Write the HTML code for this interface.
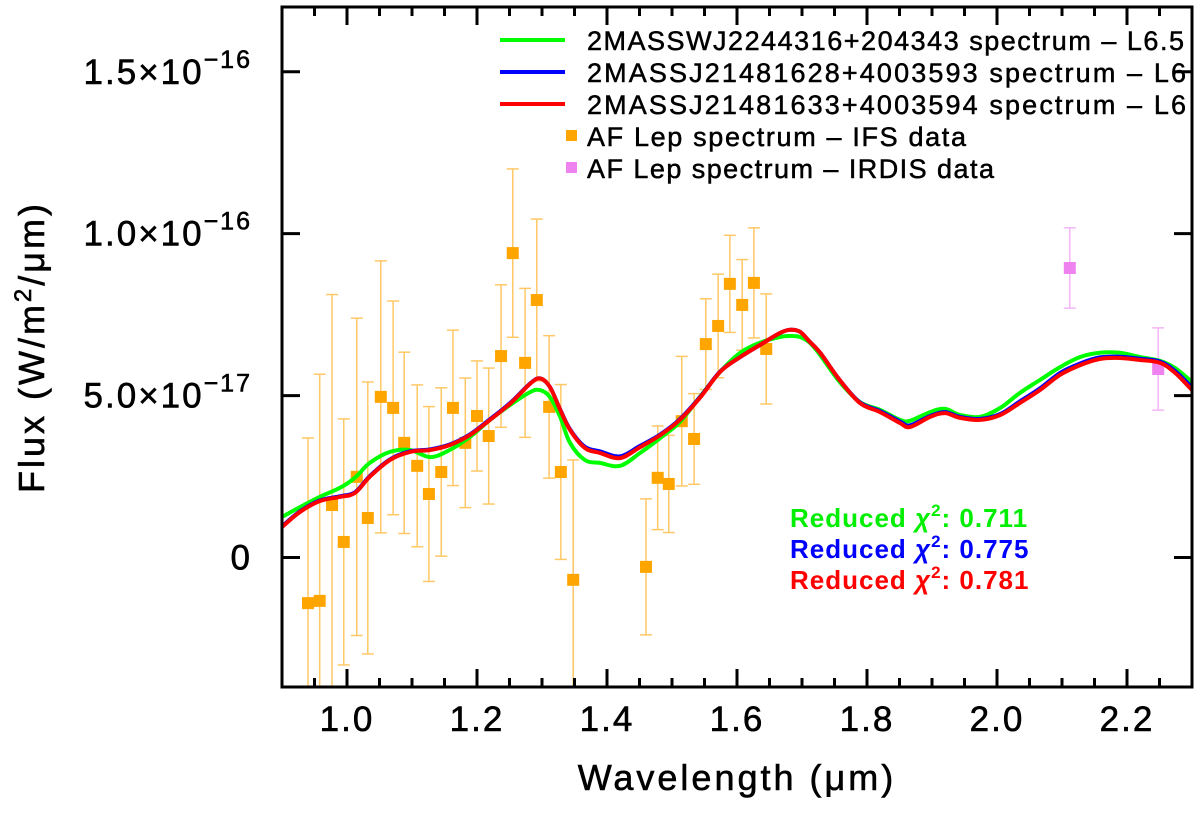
<!DOCTYPE html>
<html><head><meta charset="utf-8"><style>
body{margin:0;background:#fff}
svg text{font-family:"Liberation Sans",sans-serif}
</style></head><body>
<svg id="chart" width="1200" height="810" viewBox="0 0 1200 810" xmlns="http://www.w3.org/2000/svg">
<defs><clipPath id="clip"><rect x="282" y="7" width="910" height="680"/></clipPath></defs>
<g id="plot" clip-path="url(#clip)"></g>
<g id="axes"></g>
<g id="legend" font-size="27" stroke="#000" stroke-width="0.5" letter-spacing="1">
  <line x1="500" y1="40" x2="565" y2="40" stroke="#00ff00" stroke-width="4"/>
  <line x1="500" y1="72" x2="565" y2="72" stroke="#0000ff" stroke-width="4"/>
  <line x1="500" y1="104" x2="565" y2="104" stroke="#ff0000" stroke-width="4"/>
  <rect x="566" y="130" width="11" height="11" fill="#ffa500" stroke="none"/>
  <rect x="566" y="162" width="11" height="11" fill="#ee82ee" stroke="none"/>
  <text x="587" y="50" textLength="598">2MASSWJ2244316+204343 spectrum – L6.5</text>
  <text x="587" y="82" textLength="600">2MASSJ21481628+4003593 spectrum – L6</text>
  <text x="587" y="114" textLength="600">2MASSJ21481633+4003594 spectrum – L6</text>
  <text x="587" y="146" textLength="380">AF Lep spectrum – IFS data</text>
  <text x="587" y="178" textLength="408">AF Lep spectrum – IRDIS data</text>
</g>
<g id="chi" font-size="26" font-weight="bold" letter-spacing="1">
  <text x="790" y="527" fill="#00ee00">Reduced <tspan font-style="italic">χ</tspan><tspan dy="-11" font-size="17">2</tspan><tspan dy="11">: 0.711</tspan></text>
  <text x="790" y="558" fill="#0000ff">Reduced <tspan font-style="italic">χ</tspan><tspan dy="-11" font-size="17">2</tspan><tspan dy="11">: 0.775</tspan></text>
  <text x="790" y="589" fill="#ff0000">Reduced <tspan font-style="italic">χ</tspan><tspan dy="-11" font-size="17">2</tspan><tspan dy="11">: 0.781</tspan></text>
</g>
<text x="737" y="790" font-size="36" letter-spacing="3" stroke="#000" stroke-width="0.6" text-anchor="middle">Wavelength (μm)</text>
<text transform="translate(44,347) rotate(-90)" font-size="36" letter-spacing="3" stroke="#000" stroke-width="0.6" text-anchor="middle">Flux (W/m<tspan dy="-13" font-size="24">2</tspan><tspan dy="13">/μm)</tspan></text>
</svg>
<script>
const modelWl = [0.900,0.928,0.958,0.989,1.012,1.035,1.066,1.097,1.128,1.158,1.189,1.220,1.251,1.282,1.297,1.312,1.328,1.343,1.366,1.389,1.420,1.451,1.482,1.512,1.543,1.574,1.605,1.635,1.666,1.682,1.697,1.712,1.728,1.758,1.789,1.820,1.851,1.866,1.897,1.920,1.943,1.974,2.005,2.035,2.066,2.097,2.128,2.158,2.189,2.220,2.251,2.274,2.300];
const greenFlux = [1.25,1.56,1.87,2.15,2.46,2.92,3.26,3.32,3.10,3.32,3.72,4.25,4.71,5.11,5.17,4.96,4.34,3.54,3.01,2.92,2.83,3.23,3.69,4.18,4.96,5.73,6.32,6.63,6.81,6.84,6.81,6.63,6.25,5.42,4.80,4.56,4.25,4.22,4.49,4.59,4.40,4.34,4.62,5.08,5.48,5.88,6.19,6.32,6.32,6.19,6.07,5.85,5.42];
const blueFlux = [0.96,1.43,1.76,1.89,2.01,2.51,3.03,3.28,3.34,3.49,3.80,4.27,4.77,5.38,5.53,5.27,4.57,3.96,3.42,3.28,3.12,3.45,3.80,4.27,4.95,5.74,6.19,6.56,6.93,7.03,6.97,6.66,6.32,5.48,4.79,4.52,4.20,4.08,4.37,4.49,4.34,4.28,4.43,4.82,5.22,5.70,5.99,6.18,6.20,6.14,6.05,5.76,5.25];
const redFlux = [0.94,1.41,1.74,1.87,1.99,2.49,3.01,3.26,3.32,3.47,3.78,4.25,4.75,5.37,5.53,5.27,4.56,3.94,3.38,3.23,3.07,3.41,3.78,4.25,4.93,5.73,6.19,6.56,6.93,7.03,6.97,6.66,6.32,5.48,4.77,4.49,4.15,4.03,4.34,4.46,4.31,4.25,4.40,4.77,5.17,5.64,5.94,6.13,6.16,6.10,6.01,5.70,5.17];
const ifsWl = [0.940,0.958,0.977,0.995,1.015,1.032,1.052,1.071,1.088,1.108,1.126,1.145,1.163,1.182,1.200,1.218,1.237,1.255,1.274,1.292,1.311,1.329,1.348,1.460,1.478,1.495,1.515,1.534,1.552,1.571,1.589,1.608,1.626,1.645];
const ifsFlux = [-1.41,-1.34,1.62,0.48,2.49,1.22,4.96,4.62,3.54,2.83,1.96,2.64,4.62,3.54,4.37,3.75,6.22,9.40,6.01,7.95,4.65,2.64,-0.69,-0.29,2.46,2.27,4.21,3.66,6.59,7.15,8.45,7.80,8.48,6.44];
const ifsErr = [5.1,7.0,6.5,3.8,4.9,4.2,4.2,3.3,2.8,2.5,2.7,2.6,2.4,2.0,1.7,2.1,2.2,2.6,2.3,2.5,2.2,2.7,3.7,2.1,1.6,1.5,2.0,1.4,1.4,1.6,1.5,1.4,1.7,1.7];
const irdisWl = [2.112,2.248];
const irdisFlux = [8.94,5.82];
const irdisErr = [1.24,1.27];
const xTicks = [1.0,1.2,1.4,1.6,1.8,2.0,2.2];
const xTickLabels = ["1.0","1.2","1.4","1.6","1.8","2.0","2.2"];
const yTicks = [0,5,10,15];
const yTickLabels = ["0","5.0×10","1.0×10","1.5×10"];
const yTickExp = ["","−17","−16","−16"];

const X0=282,X1=1192,Y0=687,Y1=7,XMIN=0.9,XMAX=2.3,YMIN=-4,YMAX=17;
function xs(v){return X0+(v-XMIN)/(XMAX-XMIN)*(X1-X0);}
function ys(v){return Y0-(v-YMIN)/(YMAX-YMIN)*(Y0-Y1);}
const NS="http://www.w3.org/2000/svg";
function mk(tag,attrs,parent){const e=document.createElementNS(NS,tag);for(const k in attrs)e.setAttribute(k,attrs[k]);parent.appendChild(e);return e;}
const plot=document.getElementById('plot'), axes=document.getElementById('axes');

function smoothPath(xv,yv){
  const p=xv.map((x,i)=>[xs(x),ys(yv[i])]);
  let d="M"+p[0][0].toFixed(1)+","+p[0][1].toFixed(1);
  for(let i=0;i<p.length-1;i++){
    const a=p[i-1]||p[i],b=p[i],c=p[i+1],e=p[i+2]||c;
    const c1=[b[0]+(c[0]-a[0])/6,b[1]+(c[1]-a[1])/6],c2=[c[0]-(e[0]-b[0])/6,c[1]-(e[1]-b[1])/6];
    d+="C"+c1[0].toFixed(1)+","+c1[1].toFixed(1)+" "+c2[0].toFixed(1)+","+c2[1].toFixed(1)+" "+c[0].toFixed(1)+","+c[1].toFixed(1);
  }
  return d;
}
function errPoints(wl,fl,er,col,ecol,prefix){
  for(let i=0;i<wl.length;i++){
    const x=xs(wl[i]),yt=ys(fl[i]+er[i]),yb=ys(fl[i]-er[i]),y=ys(fl[i]);
    const g=mk('g',{},plot);
    
    
    mk('line',{x1:x,y1:yt,x2:x,y2:yb,stroke:ecol,'stroke-width':1.5},g);
    mk('line',{x1:x-6,y1:yt,x2:x+6,y2:yt,stroke:ecol,'stroke-width':1.5},g);
    mk('line',{x1:x-6,y1:yb,x2:x+6,y2:yb,stroke:ecol,'stroke-width':1.5},g);
    mk('rect',{x:x-6,y:y-6,width:12,height:12,fill:col},g);
  }
}
errPoints(ifsWl,ifsFlux,ifsErr,'#ffa500','#ffc866','ifs');
errPoints(irdisWl,irdisFlux,irdisErr,'#ee82ee','#f5b5f5','irdis');
[[greenFlux,'#00ff00','green-model-line'],[blueFlux,'#0000ff','blue-model-line'],[redFlux,'#ff0000','red-model-line']].forEach(s=>{
  const p=mk('path',{d:smoothPath(modelWl,s[0]),fill:'none',stroke:s[1],'stroke-width':4},plot);
  
  
});
const fr=mk('rect',{x:X0,y:Y1,width:X1-X0,height:Y0-Y1,fill:'none',stroke:'#000','stroke-width':3},axes);


for(let k=0;k<=28;k++){
  const v=XMIN+k*0.05;const x=xs(v);const major=(k%4===2);const L=major?18:9;
  mk('line',{x1:x,y1:Y0,x2:x,y2:Y0-L,stroke:'#000','stroke-width':3},axes);
  mk('line',{x1:x,y1:Y1,x2:x,y2:Y1+L,stroke:'#000','stroke-width':3},axes);
}
xTicks.forEach((v,i)=>{
  const t=mk('text',{x:xs(v),y:731,'font-size':35,'letter-spacing':2,stroke:'#000','stroke-width':0.6,'text-anchor':'middle'},axes);
  t.textContent=xTickLabels[i];
  
  
});
yTicks.forEach((v,i)=>{
  const y=ys(v);
  mk('line',{x1:X0,y1:y,x2:X0+18,y2:y,stroke:'#000','stroke-width':3},axes);
  mk('line',{x1:X1,y1:y,x2:X1-18,y2:y,stroke:'#000','stroke-width':3},axes);
  const t=mk('text',{x:252,y:y+12,'font-size':35,'letter-spacing':2,stroke:'#000','stroke-width':0.6,'text-anchor':'end'},axes);
  
  
  if(yTickExp[i]){
    const a=document.createElementNS(NS,'tspan');a.textContent=yTickLabels[i];t.appendChild(a);
    const b=document.createElementNS(NS,'tspan');b.setAttribute('dy','-16');b.setAttribute('font-size','25');b.textContent=yTickExp[i];t.appendChild(b);
  } else t.textContent=yTickLabels[i];
});
</script>
</body></html>
